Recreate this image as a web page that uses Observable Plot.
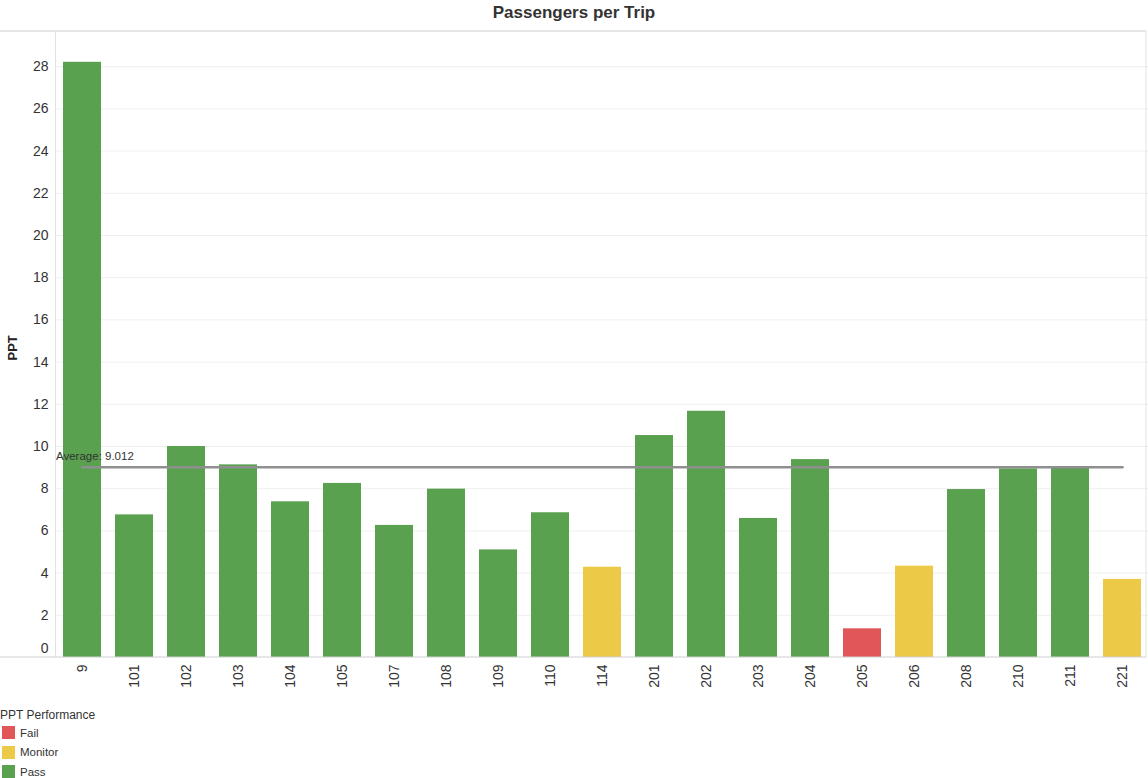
<!DOCTYPE html>
<html>
<head>
<meta charset="utf-8">
<script src="https://cdn.jsdelivr.net/npm/d3@7"></script>
<script src="https://cdn.jsdelivr.net/npm/@observablehq/plot@0.6"></script>
<style>
  body { margin: 0; background: #fff; font-family: "Liberation Sans", Arial, sans-serif; }
  #page { position: relative; width: 1148px; height: 778px; overflow: hidden; }
  #title { position: absolute; left: 0; top: 0; width: 1148px; height: 26px; text-align: center;
           font-weight: bold; font-size: 17px; line-height: 25px; color: #333; }
  #chart { position: absolute; left: 0; top: 26px; }
  #legend { position: absolute; left: 0; top: 708px; font-size: 11.5px; color: #333; }
  #legend .head { font-size: 12px; line-height: 14px; margin-bottom: 1px; }
  #legend .item { display: flex; align-items: center; height: 19.5px; }
  #legend .sw { width: 13px; height: 13px; margin-left: 2px; margin-right: 5px; }
</style>
</head>
<body>
<div id="page">
  <div id="title">Passengers per Trip</div>
  <div id="chart"></div>
  <div id="legend"></div>
</div>
<script>
// Routes and their passengers-per-trip values
const routes = ["9", "101", "102", "103", "104", "105", "107", "108", "109", "110", "114",
                "201", "202", "203", "204", "205", "206", "208", "210", "211", "221"];
const ppt = [28.21, 6.76, 10.0, 9.13, 7.38, 8.25, 6.26, 7.98, 5.10, 6.86, 4.28,
             10.52, 11.67, 6.59, 9.38, 1.36, 4.33, 7.96, 8.94, 9.04, 3.70];
const performance = ["Pass", "Pass", "Pass", "Pass", "Pass", "Pass", "Pass", "Pass", "Pass", "Pass", "Monitor",
                     "Pass", "Pass", "Pass", "Pass", "Fail", "Monitor", "Pass", "Pass", "Pass", "Monitor"];
const averagePPT = 9.012;

// Legend categories and colours
const statusNames = ["Fail", "Monitor", "Pass"];
const statusColors = ["#e15759", "#edc948", "#59a14f"];

// Y axis ticks
const yTicks = [0, 2, 4, 6, 8, 10, 12, 14, 16, 18, 20, 22, 24, 26, 28];

const rows = routes.map((route, i) => ({route, ppt: ppt[i], status: performance[i]}));
const avgRows = [
  {route: routes[0], value: averagePPT},
  {route: routes[routes.length - 1], value: averagePPT}
];

const width = 1148, height = 680;
const marginTop = 5, marginBottom = 49, marginLeft = 55.5, marginRight = 0;
const font = '"Liberation Sans", Arial, sans-serif';

const chart = Plot.plot({
  width, height, marginTop, marginBottom, marginLeft, marginRight,
  style: {fontFamily: font, fontSize: "14px", color: "#333", background: "transparent"},
  x: {domain: routes, paddingInner: 0.26, paddingOuter: 0.13, label: null},
  y: {domain: [0, 29.67], label: null},
  color: {domain: statusNames, range: statusColors},
  marks: [
    Plot.gridY({ticks: yTicks.slice(1), stroke: "#efefef", strokeOpacity: 1}),
    Plot.barY(rows, {x: "route", y: "ppt", fill: "status"}),
    Plot.axisY({ticks: yTicks.slice(1), tickSize: 0, tickPadding: 7.5, fontSize: 14, label: null}),
    Plot.axisY({ticks: [0], tickSize: 0, tickPadding: 7.5, fontSize: 14, dy: -9, label: null}),
    Plot.axisX({tickSize: 0, tickRotate: -90, tickPadding: 7, fontSize: 14, label: null}),
    Plot.line(avgRows, {x: "route", y: "value", stroke: "#8f8f8f", strokeWidth: 2.5}),
    Plot.text([`Average: ${averagePPT}`], {
      frameAnchor: "left", y: () => averagePPT, text: d => d,
      textAnchor: "start", dy: -11, fontSize: 11.5, fill: "#333"
    }),
    Plot.text(["PPT"], {
      frameAnchor: "left", text: d => d, rotate: -90, dx: -43, dy: 16,
      fontWeight: "bold", fontSize: 13, fill: "#222"
    })
  ]
});

// Chart frame: light border lines around the plotting area
const svg = d3.select(chart);
const yTop = marginTop, yBottom = height - marginBottom, xRight = width - 2;
const frame = svg.append("g").attr("fill", "none");
frame.append("line").attr("x1", 0).attr("x2", xRight).attr("y1", yTop).attr("y2", yTop)
  .attr("stroke", "#dedede").attr("stroke-width", 1.5);
frame.append("line").attr("x1", marginLeft).attr("x2", marginLeft).attr("y1", yTop).attr("y2", yBottom)
  .attr("stroke", "#e2e2e2").attr("stroke-width", 1);
frame.append("line").attr("x1", xRight).attr("x2", xRight).attr("y1", yTop).attr("y2", yBottom)
  .attr("stroke", "#e2e2e2").attr("stroke-width", 1);
frame.append("line").attr("x1", 0).attr("x2", xRight).attr("y1", yBottom).attr("y2", yBottom)
  .attr("stroke", "#cfcfcf").attr("stroke-width", 1.2);

document.getElementById("chart").appendChild(chart);

// Legend
const legend = document.getElementById("legend");
const head = document.createElement("div");
head.className = "head";
head.textContent = "PPT Performance";
legend.appendChild(head);
statusNames.forEach((name, i) => {
  const item = document.createElement("div");
  item.className = "item";
  const sw = document.createElement("span");
  sw.className = "sw";
  sw.style.background = statusColors[i];
  const label = document.createElement("span");
  label.textContent = name;
  item.appendChild(sw);
  item.appendChild(label);
  legend.appendChild(item);
});
</script>
</body>
</html>
